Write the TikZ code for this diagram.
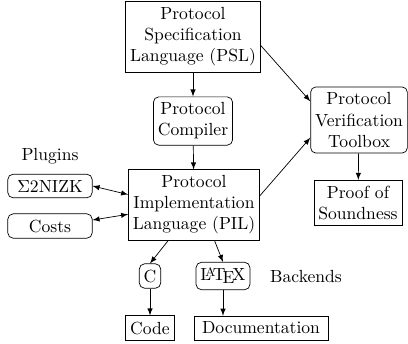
\documentclass[tikz,border=0pt]{standalone}
\usepackage{tikz}
\usepackage{xcolor}

\tikzset{
    sqbox/.style={draw, align=center, inner xsep=2.5pt, inner ysep=3.3pt},
    rndbox/.style={draw, rounded corners=3pt, align=center, inner xsep=2.5pt, inner ysep=3.3pt},
}

\begin{document}
\begin{tikzpicture}[x=0.02cm, y=-0.02cm, >=latex]
    \useasboundingbox (0,0) rectangle (408,343);
    % main chain
    \node[sqbox] (psl) at (193,37) {Protocol\\Specification\\Language (PSL)};
    \node[rndbox] (comp) at (193,121) {Protocol\\Compiler};
    \node[sqbox] (pil) at (194,205) {Protocol\\Implementation\\Language (PIL)};
    % verification
    \node[rndbox] (ver) at (359,120) {Protocol\\Verification\\Toolbox};
    \node[sqbox] (proof) at (358,203) {Proof of\\Soundness};
    % plugins
    \node (plugins) at (50,156) {Plugins};
    \node[rndbox, minimum width=48pt] (nizk) at (50,186) {$\Sigma$2NIZK};
    \node[rndbox, minimum width=48pt] (costs) at (50,226) {Costs};
    % backends
    \node[rndbox] (c) at (150,276) {C};
    \node[rndbox] (latex) at (223,276) {\LaTeX};
    \node (backends) at (306,276) {Backends};
    \node[sqbox] (code) at (150,328) {Code};
    \node[sqbox, inner xsep=4.5pt] (doc) at (261,328) {Documentation};

    \draw[->] (psl) -- (comp);
    \draw[->] (comp) -- (pil);
    \draw[->] (psl.-7) -- (ver.159);
    \draw[->] (pil.8) -- (ver.200);
    \draw[->] (ver) -- (proof);
    \draw[<->] (nizk.east) -- (pil.171);
    \draw[<->] (costs.8) -- (pil.188);
    \draw[->] (pil.-126) -- (c.north);
    \draw[->] (pil.-60) -- (latex.north);
    \draw[->] (c) -- (code);
    \draw[->] (latex.south) -- (latex.south |- doc.north);
\end{tikzpicture}
\end{document}
